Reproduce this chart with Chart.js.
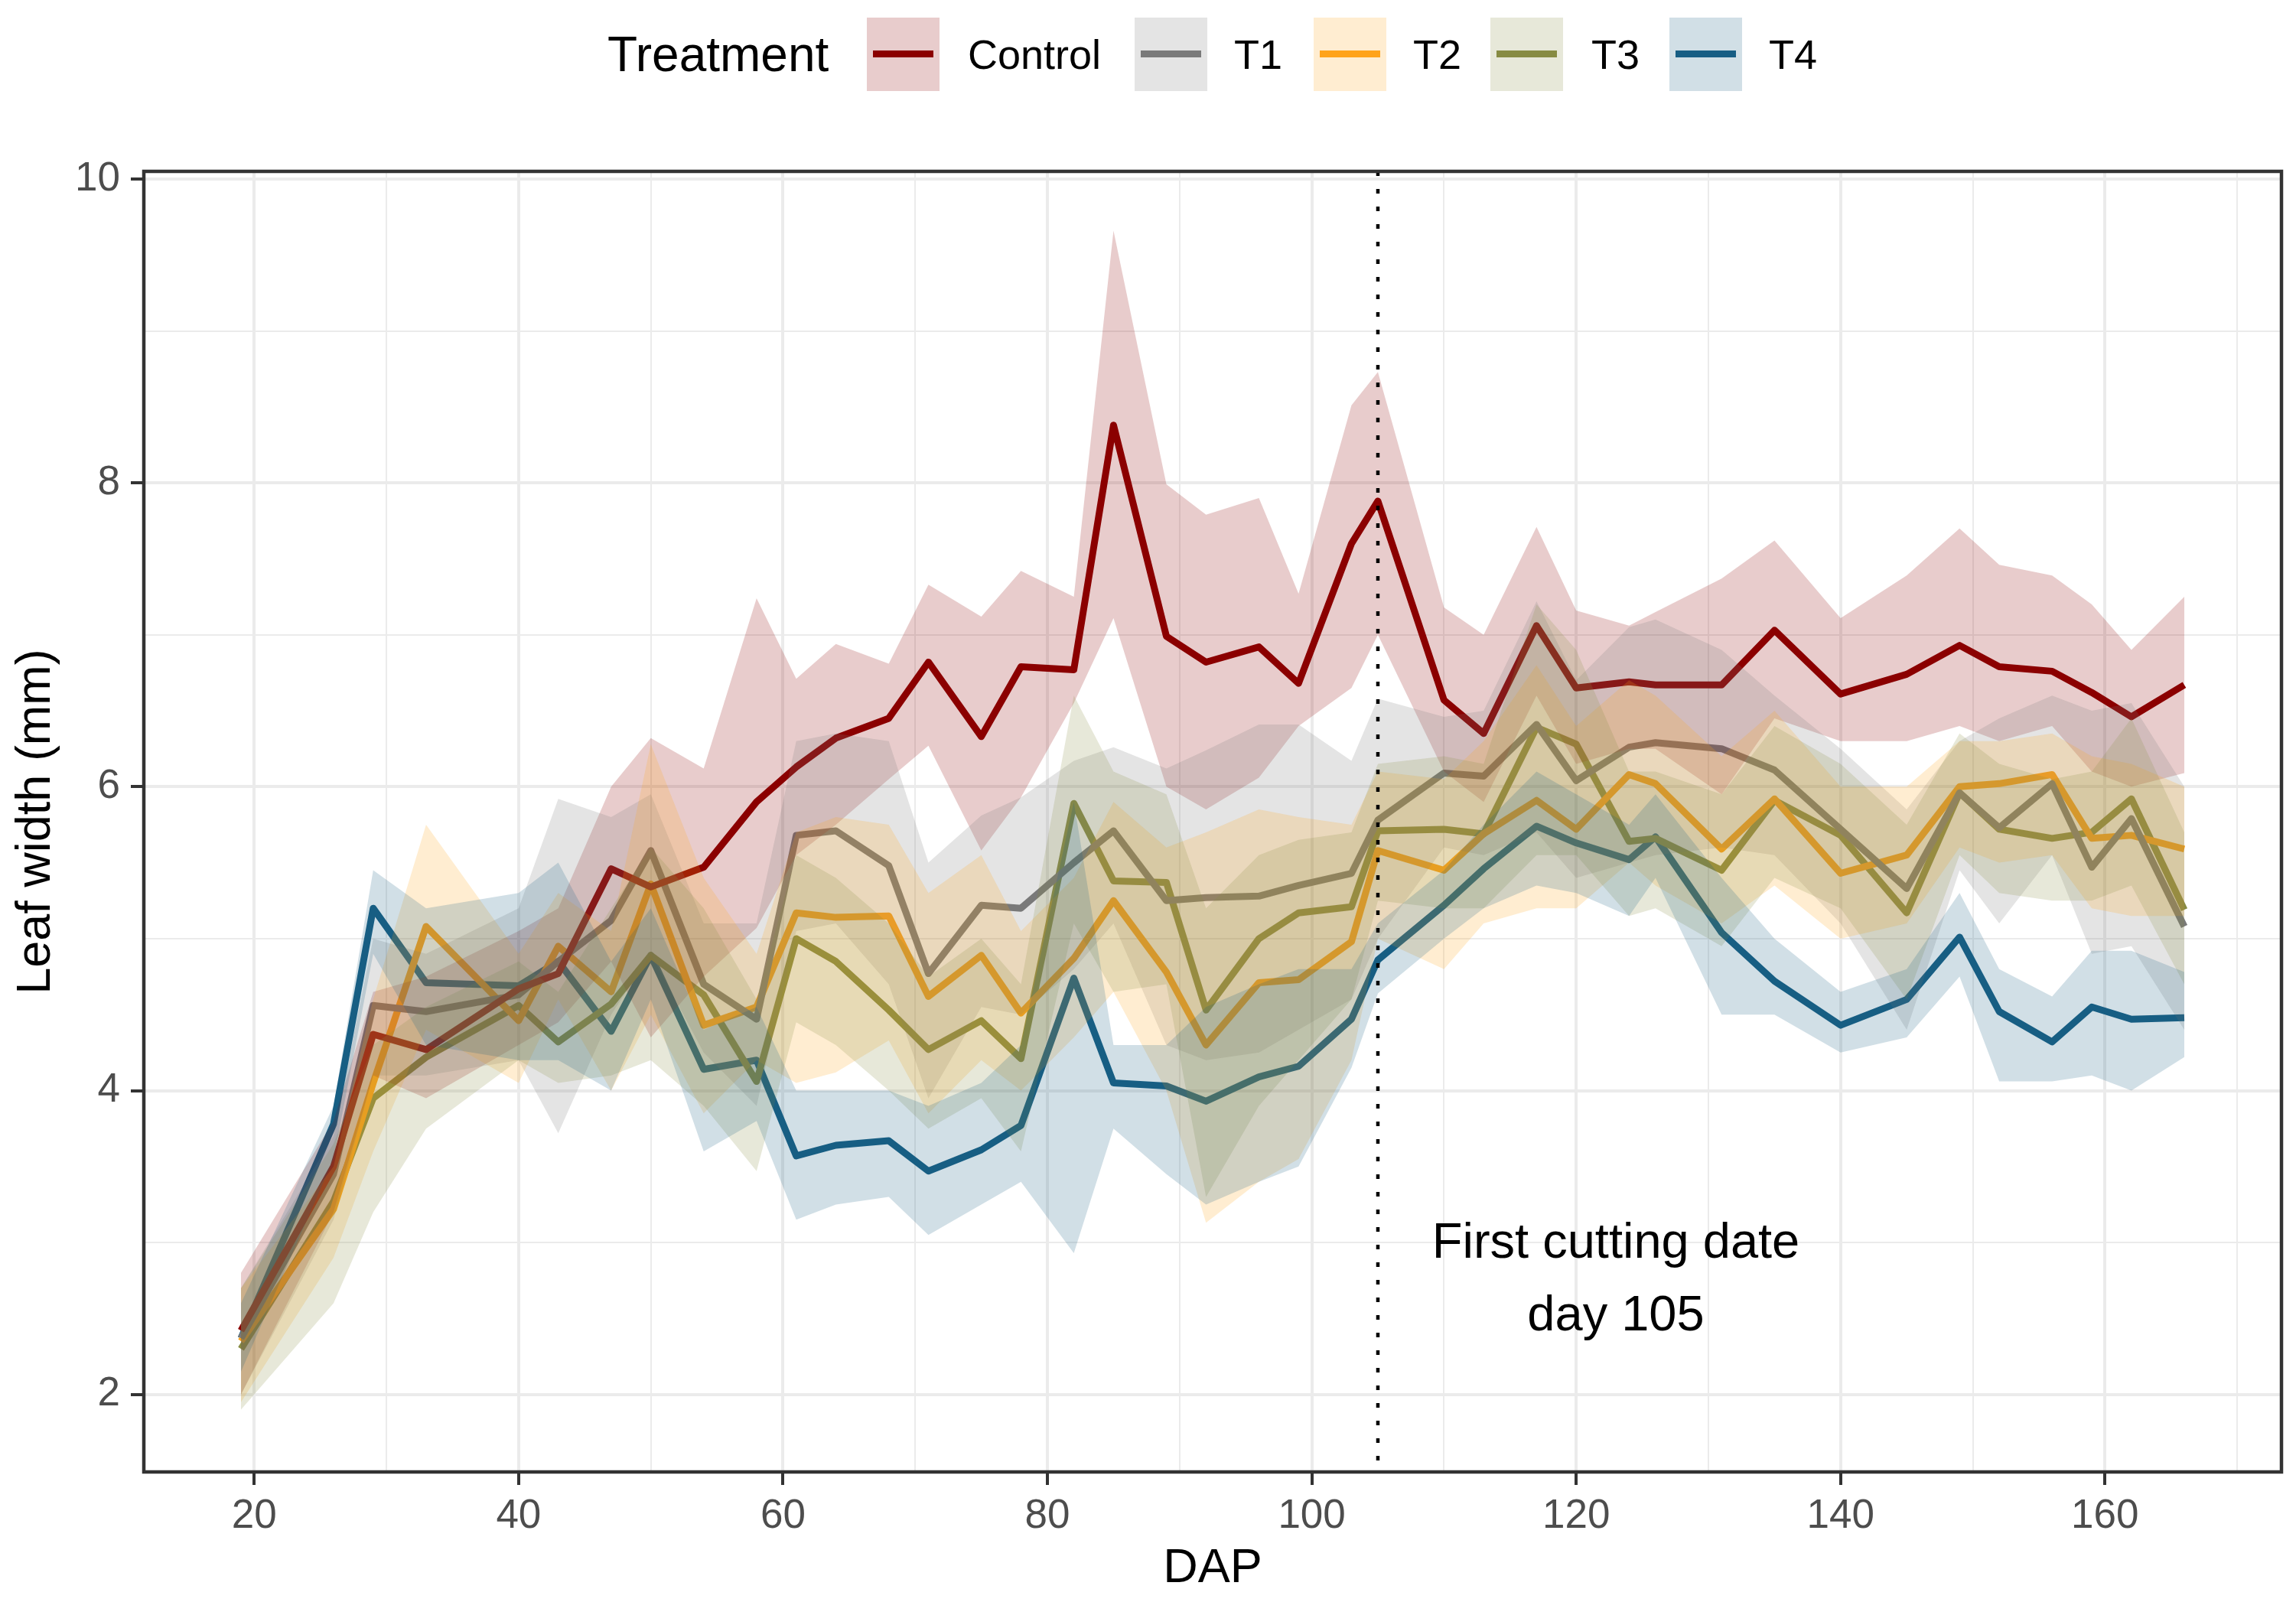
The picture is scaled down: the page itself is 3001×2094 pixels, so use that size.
<!DOCTYPE html>
<html>
<head>
<meta charset="utf-8">
<script src="https://cdn.jsdelivr.net/npm/chart.js@4.4.1/dist/chart.umd.min.js"></script>
<style>
  html, body { margin: 0; padding: 0; background: #ffffff; }
  #wrap { position: relative; width: 3001px; height: 2094px; overflow: hidden; }
  #chart { position: absolute; left: 0; top: 0; }
  .lg { position: absolute; font-family: "Liberation Sans", Arial, sans-serif; color: #000; white-space: nowrap; }
  .lgtitle { font-size: 64px; height: 96px; line-height: 96px; top: 23px; }
  .lglabel { font-size: 54px; height: 96px; line-height: 96px; top: 23px; }
  .lgkey { position: absolute; top: 23px; width: 95px; height: 96px; }
  .lgkey span { position: absolute; left: 8px; right: 8px; top: 43px; height: 9px; }
</style>
</head>
<body>
<div id="wrap">
  <canvas id="chart" width="3001" height="2094"></canvas>
  <div id="legend"></div>
</div>
<script>
// ---------------- data ----------------
const days = [19,26,29,33,40,43,47,50,54,58,61,64,68,71,75,78,82,85,89,92,96,99,103,105,110,113,117,120,124,126,131,135,140,145,149,152,156,159,162,166];

const controlMean  = [2.42,3.50,4.37,4.27,4.67,4.77,5.46,5.34,5.47,5.90,6.13,6.32,6.45,6.82,6.33,6.79,6.77,8.38,6.99,6.82,6.92,6.68,7.60,7.88,6.57,6.35,7.06,6.65,6.69,6.67,6.67,7.03,6.61,6.74,6.93,6.79,6.76,6.62,6.46,6.67];
const controlUpper = [2.80,3.80,4.65,4.75,5.05,5.20,6.00,6.32,6.12,7.24,6.71,6.94,6.81,7.33,7.12,7.42,7.25,9.66,7.99,7.79,7.90,7.27,8.51,8.73,7.18,7.00,7.71,7.16,7.06,7.15,7.37,7.62,7.11,7.39,7.70,7.46,7.39,7.20,6.90,7.25];
const controlLower = [2.00,3.20,4.10,3.95,4.30,4.45,4.85,4.35,4.75,5.07,5.55,5.75,6.05,6.27,5.58,5.93,6.55,7.11,6.00,5.85,6.06,6.40,6.65,7.00,6.10,5.90,6.60,6.15,6.25,6.25,5.95,6.45,6.30,6.30,6.40,6.30,6.40,6.10,6.00,6.09];

const t1Mean  = [2.37,3.45,4.56,4.52,4.63,4.85,5.12,5.58,4.70,4.47,5.68,5.71,5.48,4.77,5.22,5.20,5.50,5.71,5.25,5.27,5.28,5.35,5.43,5.78,6.09,6.07,6.41,6.04,6.26,6.29,6.25,6.11,5.72,5.33,5.96,5.73,6.02,5.47,5.79,5.08];
const t1Upper = [2.70,3.70,5.00,4.90,5.20,5.92,5.80,5.95,5.10,5.10,6.30,6.35,6.30,5.50,5.81,5.93,6.17,6.26,6.12,6.24,6.41,6.41,6.17,6.58,6.46,6.50,7.22,6.70,7.05,7.10,6.90,6.60,6.25,5.85,6.30,6.45,6.60,6.50,6.55,6.00];
const t1Lower = [2.00,3.15,4.10,4.10,4.20,3.72,4.50,4.90,4.25,3.90,5.05,5.10,4.70,3.95,4.55,4.50,4.80,5.10,4.30,4.20,4.25,4.40,4.60,5.00,5.60,5.55,5.70,5.40,5.50,5.55,5.60,5.55,5.10,4.40,5.45,5.10,5.55,4.90,4.95,4.40];

const t2Mean  = [2.35,3.22,4.05,5.08,4.46,4.95,4.65,5.36,4.43,4.55,5.17,5.14,5.15,4.62,4.89,4.51,4.87,5.25,4.78,4.30,4.71,4.73,4.98,5.58,5.45,5.69,5.91,5.72,6.08,6.02,5.59,5.92,5.43,5.55,6.00,6.02,6.08,5.66,5.68,5.59];
const t2Upper = [2.70,3.50,4.60,5.75,4.90,5.30,5.05,6.28,5.40,4.90,5.70,5.80,5.75,5.30,5.55,5.05,5.40,5.90,5.60,5.70,5.85,5.80,5.75,6.10,6.05,6.30,6.80,6.40,6.70,6.60,6.20,6.50,6.00,6.00,6.30,6.30,6.35,6.20,6.15,6.00];
const t2Lower = [1.95,2.90,3.60,4.40,4.05,4.60,4.00,4.50,3.85,4.20,4.05,4.12,4.33,3.85,4.20,4.00,4.35,4.65,4.00,3.13,3.40,3.55,4.20,5.00,4.80,5.10,5.20,5.20,5.50,5.35,5.10,5.35,5.00,5.10,5.60,5.50,5.55,5.20,5.15,5.15];

const t3Mean  = [2.30,3.27,3.95,4.22,4.56,4.32,4.57,4.89,4.63,4.06,5.00,4.85,4.53,4.27,4.46,4.21,5.89,5.38,5.37,4.53,5.00,5.17,5.21,5.71,5.72,5.69,6.39,6.28,5.64,5.66,5.45,5.91,5.68,5.17,5.96,5.72,5.66,5.70,5.92,5.19];
const t3Upper = [2.70,3.65,4.30,4.55,4.85,4.65,5.20,5.60,5.20,4.60,5.55,5.40,5.10,4.75,5.00,4.70,6.60,6.10,5.95,5.20,5.55,5.65,5.70,6.15,6.20,6.15,7.20,6.90,6.10,6.10,5.95,6.40,6.15,5.75,6.35,6.15,6.05,6.10,6.45,5.70];
const t3Lower = [1.90,2.60,3.20,3.75,4.20,4.05,4.10,4.20,3.90,3.47,4.45,4.30,4.00,3.75,3.95,3.60,5.10,4.65,4.70,3.30,3.90,4.20,4.60,5.25,5.20,5.20,5.55,5.55,5.15,5.20,4.95,5.40,5.20,4.60,5.55,5.30,5.25,5.25,5.35,4.70];

const t4Mean  = [2.37,3.78,5.20,4.71,4.69,4.85,4.39,4.89,4.14,4.20,3.57,3.64,3.67,3.47,3.61,3.77,4.74,4.05,4.03,3.93,4.09,4.16,4.47,4.86,5.22,5.46,5.74,5.63,5.52,5.67,5.04,4.72,4.43,4.60,5.01,4.52,4.32,4.55,4.47,4.48];
const t4Upper = [2.60,3.90,5.45,5.20,5.30,5.50,4.85,5.20,4.40,4.55,4.00,4.00,4.00,3.90,4.05,4.30,5.90,4.30,4.30,4.55,4.70,4.80,4.80,5.10,5.45,5.75,6.10,5.95,5.75,5.95,5.40,5.00,4.65,4.80,5.30,4.80,4.62,4.92,4.92,4.78];
const t4Lower = [2.15,3.55,4.90,4.30,4.20,4.20,4.00,4.60,3.60,3.80,3.15,3.25,3.30,3.05,3.25,3.40,2.93,3.75,3.45,3.25,3.40,3.50,4.15,4.64,5.00,5.20,5.35,5.30,5.15,5.40,4.50,4.50,4.25,4.35,4.75,4.06,4.06,4.10,4.00,4.22];

const seriesNames = ["Control","T1","T2","T3","T4"];
const xTickValues = [20,40,60,80,100,120,140,160];
const xGridValues = [20,30,40,50,60,70,80,90,100,110,120,130,140,150,160,170];
const yTickValues = [2,4,6,8,10];
const yGridValues = [2,3,4,5,6,7,8,9,10];
const cutDay = 105;
const annotationLines = ["First cutting date","day 105"];
const annotationX = 123;
const annotationY = [2.99, 2.51];

// ---------------- styles ----------------
const lineColors = ["#8B0000","#7A7A7A","#FFA31A","#878B43","#175E84"];
const ribbonAlpha = 0.2;
const FONT = '"Liberation Sans", Arial, sans-serif';

function rgba(hex, a) {
  const n = parseInt(hex.slice(1), 16);
  return `rgba(${(n>>16)&255},${(n>>8)&255},${n&255},${a})`;
}
const toXY = (arr) => arr.map((v, i) => ({ x: days[i], y: v }));

const means  = [controlMean, t1Mean, t2Mean, t3Mean, t4Mean];
const uppers = [controlUpper, t1Upper, t2Upper, t3Upper, t4Upper];
const lowers = [controlLower, t1Lower, t2Lower, t3Lower, t4Lower];

const datasets = [];
seriesNames.forEach((name, k) => {
  const base = datasets.length;
  datasets.push({
    label: name + " lower", data: toXY(lowers[k]),
    borderWidth: 0, borderColor: "rgba(0,0,0,0)", pointRadius: 0, fill: false, order: 50
  });
  datasets.push({
    label: name + " band", data: toXY(uppers[k]),
    borderWidth: 0, borderColor: "rgba(0,0,0,0)", pointRadius: 0,
    fill: base, backgroundColor: rgba(lineColors[k], ribbonAlpha), order: 10 - k
  });
});
seriesNames.forEach((name, k) => {
  datasets.push({
    label: name, data: toXY(means[k]),
    borderColor: lineColors[k], borderWidth: 9, pointRadius: 0, fill: false,
    tension: 0, borderJoinStyle: "round", order: 100
  });
});

const panelPlugin = {
  id: "panelDecor",
  afterDatasetsDraw(chart) {
    const { ctx, chartArea: a, scales: { x, y } } = chart;
    ctx.save();
    // dotted cutting-date line
    const px = x.getPixelForValue(cutDay);
    ctx.strokeStyle = "#000000";
    ctx.lineWidth = 4.5;
    ctx.setLineDash([6, 17]);
    ctx.beginPath();
    ctx.moveTo(px, a.top);
    ctx.lineTo(px, a.bottom);
    ctx.stroke();
    ctx.setLineDash([]);
    // annotation
    ctx.fillStyle = "#000000";
    ctx.font = "65px " + FONT;
    ctx.textAlign = "center";
    ctx.textBaseline = "middle";
    annotationLines.forEach((t, i) => {
      ctx.fillText(t, x.getPixelForValue(annotationX), y.getPixelForValue(annotationY[i]));
    });
    // panel border
    ctx.strokeStyle = "#333333";
    ctx.lineWidth = 4.5;
    ctx.strokeRect(a.left, a.top, a.right - a.left, a.bottom - a.top);
    ctx.restore();
  }
};

const majorX = (v) => xTickValues.includes(v);
const majorY = (v) => yTickValues.includes(v);

new Chart(document.getElementById("chart"), {
  type: "line",
  data: { datasets },
  options: {
    responsive: false,
    animation: false,
    devicePixelRatio: 1,
    layout: { padding: { top: 224, right: 19, left: 0, bottom: 0 } },
    plugins: {
      legend: { display: false },
      tooltip: { enabled: false },
      filler: { propagate: false }
    },
    scales: {
      x: {
        type: "linear", min: 11.65, max: 173.35,
        afterBuildTicks: (axis) => { axis.ticks = xGridValues.map(v => ({ value: v })); },
        afterFit: (s) => { s.height = 170; },
        border: { display: false },
        grid: {
          color: "#EBEBEB",
          lineWidth: (c) => majorX(c.tick.value) ? 4 : 2,
          tickColor: (c) => majorX(c.tick.value) ? "#333333" : "rgba(0,0,0,0)",
          tickLength: 17, tickWidth: 4, drawTicks: true
        },
        ticks: {
          autoSkip: false, maxRotation: 0, padding: 10,
          color: "#4D4D4D", font: { family: FONT, size: 53 },
          callback: (v) => majorX(v) ? String(v) : ""
        },
        title: { display: true, text: "DAP", color: "#000000",
                 font: { family: FONT, size: 63 }, padding: { top: 4, bottom: 6 } }
      },
      y: {
        type: "linear", min: 1.49, max: 10.05,
        afterBuildTicks: (axis) => { axis.ticks = yGridValues.map(v => ({ value: v })); },
        afterFit: (s) => { s.width = 188; },
        border: { display: false },
        grid: {
          color: "#EBEBEB",
          lineWidth: (c) => majorY(c.tick.value) ? 4 : 2,
          tickColor: (c) => majorY(c.tick.value) ? "#333333" : "rgba(0,0,0,0)",
          tickLength: 17, tickWidth: 4, drawTicks: true
        },
        ticks: {
          autoSkip: false, padding: 14,
          color: "#4D4D4D", font: { family: FONT, size: 53 },
          callback: (v) => majorY(v) ? String(v) : ""
        },
        title: { display: true, text: "Leaf width (mm)", color: "#000000",
                 font: { family: FONT, size: 63 }, padding: { top: 10, bottom: 0 } }
      }
    }
  },
  plugins: [panelPlugin]
});

// ---------------- legend (HTML text) ----------------
const legendTitle = "Treatment";
const legendTitleX = 794;
const keyX = [1133, 1483, 1717, 1948, 2182];
const labelX = [1265, 1613, 1847, 2080, 2312];
const lg = document.getElementById("legend");
const tEl = document.createElement("div");
tEl.className = "lg lgtitle"; tEl.style.left = legendTitleX + "px"; tEl.textContent = legendTitle;
lg.appendChild(tEl);
seriesNames.forEach((name, k) => {
  const key = document.createElement("div");
  key.className = "lgkey";
  key.style.left = keyX[k] + "px";
  key.style.background = rgba(lineColors[k], ribbonAlpha);
  const ln = document.createElement("span");
  ln.style.background = lineColors[k];
  key.appendChild(ln);
  lg.appendChild(key);
  const lab = document.createElement("div");
  lab.className = "lg lglabel"; lab.style.left = labelX[k] + "px"; lab.textContent = name;
  lg.appendChild(lab);
});
</script>
</body>
</html>
